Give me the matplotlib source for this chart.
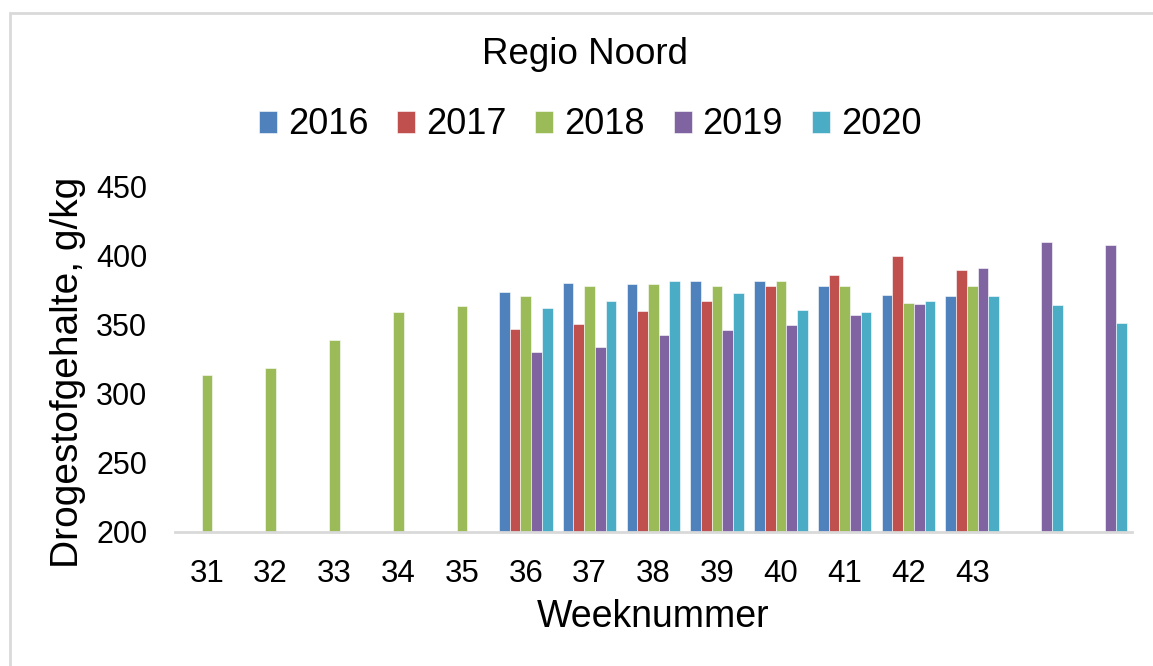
import numpy as np
import matplotlib
matplotlib.use("Agg")
import matplotlib.pyplot as plt
from matplotlib.patches import Rectangle

nan = np.nan
weeks = ["31", "32", "33", "34", "35", "36", "37", "38", "39", "40", "41", "42", "43", "", ""]
years = ["2016", "2017", "2018", "2019", "2020"]
v2016 = [nan, nan, nan, nan, nan, 374, 380.5, 379.5, 382, 382, 378.5, 372, 371, nan, nan]
v2017 = [nan, nan, nan, nan, nan, 347, 351, 360, 367, 378.5, 386, 400, 390, nan, nan]
v2018 = [314, 319, 339, 359, 364, 371, 378, 379.5, 378.5, 382, 378, 366, 378.5, nan, nan]
v2019 = [nan, nan, nan, nan, nan, 330, 334, 343, 346, 350, 357, 365.5, 391, 410, 408]
v2020 = [nan, nan, nan, nan, nan, 362, 367, 382, 373, 361, 359, 367, 371, 364.5, 351.5]
series = [v2016, v2017, v2018, v2019, v2020]
colors = ["#4F81BD", "#C0504D", "#9BBB59", "#8064A2", "#4BACC6"]

plt.rcParams['font.family'] = ['Liberation Sans', 'DejaVu Sans']

W, H = 1153, 666
fig = plt.figure(figsize=(W / 100, H / 100), dpi=100)
ax = fig.add_axes([175 / W, (H - 531.7) / H, (1131.7 - 175) / W, (531.7 - 187) / H])

x = np.arange(len(weeks))
bw = 0.168
for i, (vals, col, yr) in enumerate(zip(series, colors, years)):
    vals = np.array(vals, dtype=float)
    m = ~np.isnan(vals)
    ax.bar(x[m] + (i - 2) * bw, vals[m], width=bw, color=col, label=yr,
           edgecolor="white", linewidth=0.4, zorder=2)

ax.set_xlim(-0.5, len(weeks) - 0.5)
ax.set_ylim(200, 450)
ax.set_yticks([200, 250, 300, 350, 400, 450])
ax.set_xticks(x)
ax.set_xticklabels(weeks)
ax.tick_params(axis='x', length=0, pad=20, labelsize=22.5)
ax.tick_params(axis='y', length=0, pad=20, labelsize=22)
for s in ["top", "right", "left"]:
    ax.spines[s].set_visible(False)
ax.spines["bottom"].set_color("#d9d9d9")
ax.spines["bottom"].set_linewidth(2)
ax.spines["bottom"].set_zorder(3)

fig.text(585 / W, (H - 55) / H, "Regio Noord", ha="center", va="center", fontsize=26.5)
fig.text(653 / W, (H - 617) / H, "Weeknummer", ha="center", va="center", fontsize=27)
fig.text(68 / W, (H - 372) / H, "Drogestofgehalte, g/kg", ha="center", va="center",
         rotation=90, fontsize=28)

leg = fig.legend(loc="center", bbox_to_anchor=(590 / W, (H - 125) / H), ncol=5,
                 frameon=False, fontsize=26, handlelength=0.5, handleheight=0.55,
                 handletextpad=0.3, columnspacing=0.8)

fig.add_artist(Rectangle((9.5 / W, -0.1), 1.2, (H - 13.3) / H + 0.1,
                         transform=fig.transFigure, fill=False,
                         edgecolor="#d9d9d9", linewidth=2, clip_on=False))

fig.savefig("out.png", dpi=100, facecolor="white")
